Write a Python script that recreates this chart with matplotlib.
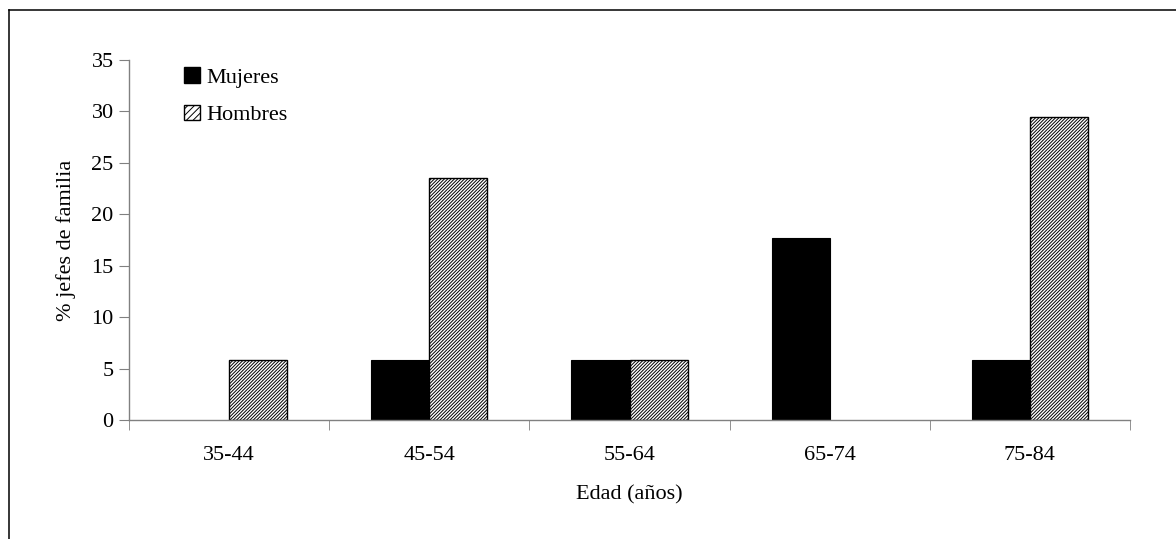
import matplotlib
matplotlib.use("Agg")
import matplotlib.pyplot as plt
import numpy as np
from matplotlib.lines import Line2D
from matplotlib.patches import Patch

plt.rcParams["font.family"] = ["Liberation Serif", "DejaVu Serif"]
plt.rcParams["hatch.linewidth"] = 0.7

# edad (años) y % de jefes de familia
grupos = ["35-44", "45-54", "55-64", "65-74", "75-84"]
mujeres = [0, 5.88, 5.88, 17.65, 5.88]
hombres = [5.88, 23.53, 5.88, 0, 29.41]
y_ticks = [0, 5, 10, 15, 20, 25, 30, 35]

fig = plt.figure(figsize=(11.76, 5.39), dpi=100)
ax = fig.add_axes([0.1097, 0.2208, 0.8512, 0.6679])

x = np.arange(len(grupos))
w = 0.29

b1 = ax.bar(x - w / 2, mujeres, w, color="black", edgecolor="black",
            linewidth=0.8, label="Mujeres")
b2 = ax.bar(x + w / 2, hombres, w, color="white", edgecolor="black",
            linewidth=1.0, hatch="//////////", label="Hombres")
for bars in (b1, b2):
    for r in bars:
        if r.get_height() == 0:
            r.set_visible(False)

ax.set_xlim(-0.5, len(grupos) - 0.5)
ax.set_ylim(0, 35)
ax.set_yticks(y_ticks)
ax.set_xticks(x)
ax.set_xticklabels(grupos)
ax.set_xticks(np.arange(len(grupos) + 1) - 0.5, minor=True)
ax.tick_params(axis="x", which="major", length=0, pad=19, labelsize=16)
ax.tick_params(axis="x", which="minor", length=7, color="#808080", direction="out")
ax.tick_params(axis="y", length=7, color="#808080", labelsize=16, pad=4)

for s in ["top", "right"]:
    ax.spines[s].set_visible(False)
for s in ["left", "bottom"]:
    ax.spines[s].set_color("#808080")
    ax.spines[s].set_linewidth(1.0)

ax.set_xlabel("Edad (años)", fontsize=16, labelpad=14)
ax.set_ylabel("% jefes de familia", fontsize=16, labelpad=11)

handles = [Patch(facecolor="black", edgecolor="black", label="Mujeres"),
           Patch(facecolor="white", edgecolor="black", hatch="/////", label="Hombres")]
ax.legend(handles=handles, loc="upper left", bbox_to_anchor=(0.035, 1.035),
          frameon=False, fontsize=16, handlelength=0.7, handleheight=0.7,
          handletextpad=0.3, labelspacing=0.75)

# marco del gráfico
y_top = 1 - 10 / 539
x_left = 9 / 1176
fig.add_artist(Line2D([x_left, 1], [y_top, y_top], color="black", linewidth=1.1))
fig.add_artist(Line2D([x_left, x_left], [0, y_top], color="black", linewidth=1.1))

fig.savefig("out.png", dpi=100)
